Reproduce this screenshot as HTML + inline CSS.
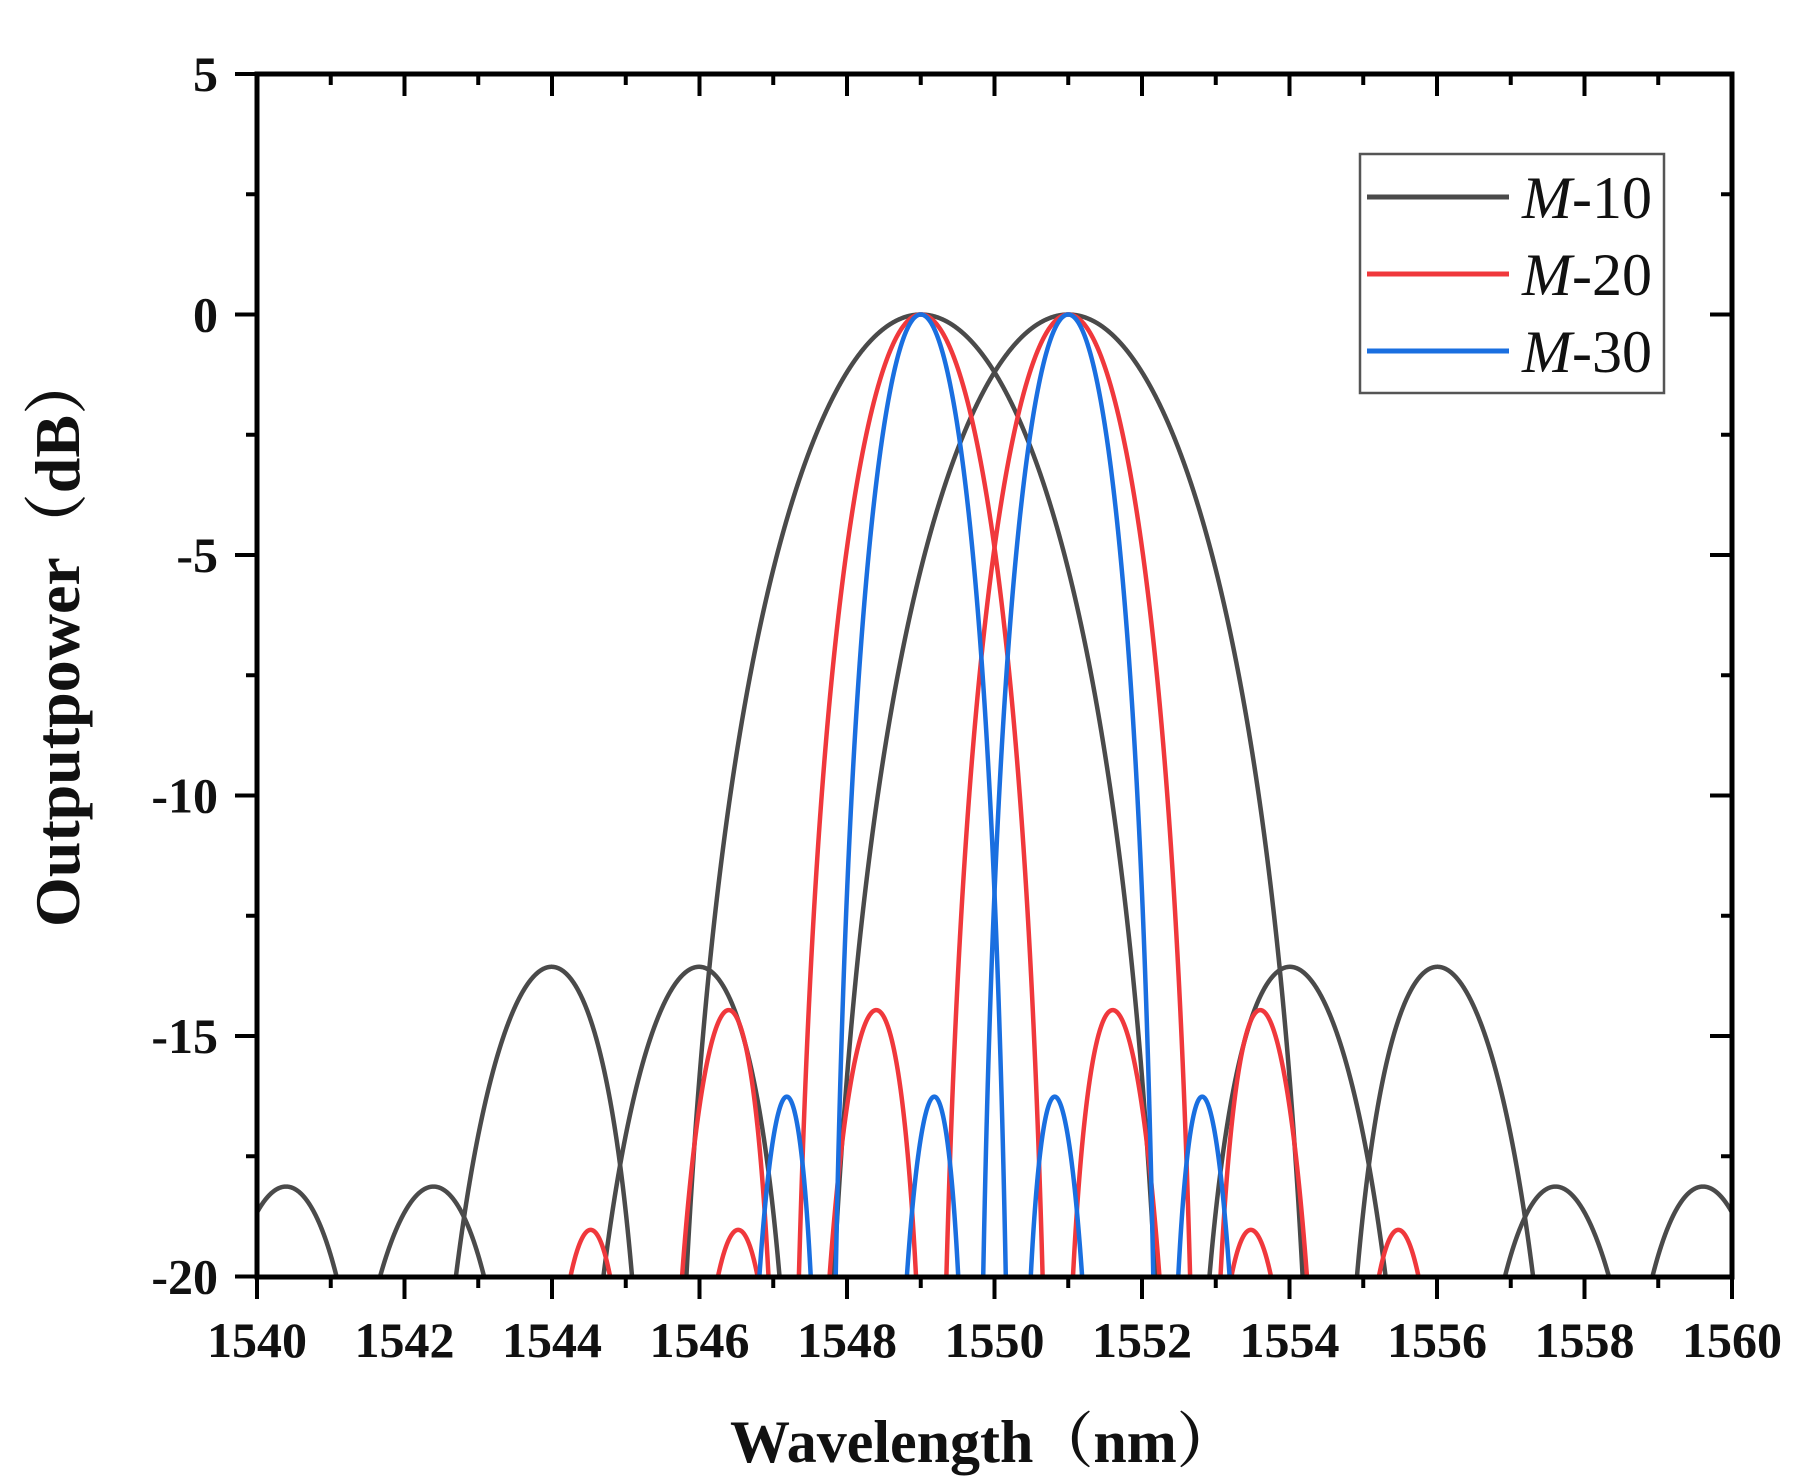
<!DOCTYPE html>
<html><head><meta charset="utf-8"><style>
html,body{margin:0;padding:0;background:#fff;}
svg{display:block;}
.t{font-family:"Liberation Serif","Noto Serif CJK SC",serif;font-weight:bold;font-size:50px;fill:#111;}
.lg{font-family:"Liberation Serif",serif;font-size:60px;fill:#111;}
</style></head><body>
<svg id="s" width="1794" height="1479" viewBox="0 0 1794 1479" xmlns="http://www.w3.org/2000/svg">
<defs><clipPath id="c"><rect x="257" y="74" width="1475" height="1203"/></clipPath></defs>
<g id="curves" clip-path="url(#c)" fill="none" stroke-width="4.5" stroke-linejoin="round"></g>
<g id="ax" stroke="#000" fill="none"></g>
<rect x="1360" y="154" width="304" height="239" fill="#fff" stroke="#555" stroke-width="2.5"/>
<line x1="1367" y1="197" x2="1509" y2="197" stroke="#4a4a4a" stroke-width="5"/>
<line x1="1367" y1="274" x2="1509" y2="274" stroke="#f0383c" stroke-width="5"/>
<line x1="1367" y1="351" x2="1509" y2="351" stroke="#1a6fe0" stroke-width="5"/>
<text class="lg" x="1522" y="218"><tspan font-style="italic">M</tspan>-10</text>
<text class="lg" x="1522" y="295"><tspan font-style="italic">M</tspan>-20</text>
<text class="lg" x="1522" y="372"><tspan font-style="italic">M</tspan>-30</text>
<g id="lab"></g>
<text class="t" style="font-size:64px" transform="translate(79,927) rotate(-90)">Outputpower（dB）</text>
<text class="t" style="font-size:60px" x="730" y="1462">Wavelength（nm）</text>
</svg>
<script>
var NS="http://www.w3.org/2000/svg";
function X(l){return 257+(l-1540)*73.75;}
function Y(d){return 314.5-d*48.1;}
function el(p,t,a){var e=document.createElementNS(NS,t);for(var k in a)e.setAttribute(k,a[k]);p.appendChild(e);return e;}
var cg=document.getElementById('curves');
var series=[["#4a4a4a",3.5,-0.3],["#f0383c",1.82,-1.2],["#1a6fe0",1.27,-3]];
series.forEach(function(s){
 [1549,1551].forEach(function(c){
  var d="",pen=false;
  for(var l=1539.5;l<=1560.5;l+=0.004){
   var x=Math.PI*(l-c)/s[1];var v=Math.abs(x)<1e-9?1:Math.sin(x)/x;
   var db=10*Math.log10(v*v+1e-12);if(Math.abs(x)>Math.PI)db+=s[2];
   if(db>-20.6){d+=(pen?"L":"M")+X(l).toFixed(2)+" "+Y(db).toFixed(2);pen=true;}else pen=false;
  }
  el(cg,"path",{d:d,stroke:s[0]});
 });
});
var ax=document.getElementById('ax');
el(ax,"rect",{x:257,y:74,width:1475,height:1203,"stroke-width":5});
for(var l=1540;l<=1560;l++){var mj=(l%2==0);var x=X(l);
 el(ax,"line",{x1:x,y1:1277,x2:x,y2:1277+(mj?22:11),"stroke-width":4});
 el(ax,"line",{x1:x,y1:74,x2:x,y2:74+(mj?22:11),"stroke-width":4});
 if(mj){var t=el(document.getElementById('lab'),"text",{x:x,y:1357,"class":"t","text-anchor":"middle"});t.textContent=l;}
}
for(var v=5;v>=-20;v-=2.5){var mj=(v%5==0);var y=Y(v);
 el(ax,"line",{x1:257,y1:y,x2:257-(mj?22:11),y2:y,"stroke-width":4});
 el(ax,"line",{x1:1732,y1:y,x2:1732-(mj?22:11),y2:y,"stroke-width":4});
 if(mj){var t=el(document.getElementById('lab'),"text",{x:218,y:y+17,"class":"t","text-anchor":"end"});t.textContent=v;}
}
</script>
</body></html>
